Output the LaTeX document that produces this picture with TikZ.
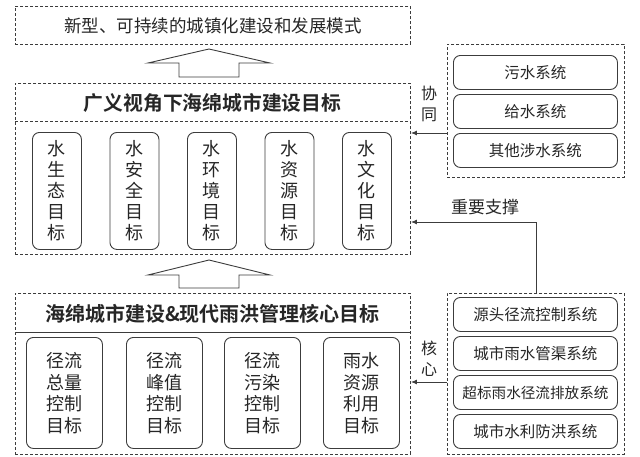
\documentclass[tikz,border=0pt]{standalone}
\usepackage{fontspec}
\setmainfont{Noto Sans CJK SC}[BoldFont={Noto Sans CJK SC Bold}]
\usetikzlibrary{arrows.meta,calc}
\definecolor{lc}{HTML}{3C3C3C}
\definecolor{tc}{HTML}{262626}
\tikzset{
  dbox/.style={draw=lc, line width=0.9pt, dash pattern=on 3pt off 2pt, anchor=north west, inner sep=0pt, text=tc},
  rbox/.style={draw=lc, line width=0.9pt, rounded corners=7pt, anchor=north west, inner sep=0pt, align=center, text=tc},
  vgoal/.style={rbox, minimum width=49pt, minimum height=117pt, font=\fontsize{18}{21}\selectfont},
  cgoal/.style={rbox, minimum width=76pt, minimum height=111pt, font=\fontsize{18}{21.5}\selectfont},
  sys/.style={rbox, minimum width=164pt, minimum height=34pt, font=\fontsize{15.5}{18}\selectfont},
  lab/.style={text=tc, inner sep=0pt, align=center},
  conn/.style={draw=lc, line width=0.9pt, -{Latex[length=6pt,width=5pt]}},
  blockarrow/.style={draw=lc, line width=0.9pt, fill=white}
}
\begin{document}
\begin{tikzpicture}[x=1pt,y=-1pt]
\useasboundingbox (0,0) rectangle (640,456);
% top box
\node[dbox, minimum width=395pt, minimum height=38pt, font=\fontsize{17.5}{20}\selectfont] (top) at (15,6) {新型、可持续的城镇化建设和发展模式};
% arrow 1
\draw[blockarrow] (179,77) -- (179,63) -- (148,63) -- (209,49) -- (270,63) -- (239,63) -- (239,77) -- cycle;
% middle box
\node[dbox, minimum width=395pt, minimum height=171pt] (mid) at (15,83) {};
\coordinate (midsepL) at (15,121);
\coordinate (midsepR) at (410,121);
\draw[lc, line width=0.9pt, dash pattern=on 3pt off 2pt] (midsepL) -- (midsepR);
\node[lab, font=\bfseries\fontsize{19.8}{22}\selectfont] (midtitle) at (212.5,103) {广义视角下海绵城市建设目标};
\node[vgoal] (g1) at (32,132) {水\\生\\态\\目\\标};
\node[vgoal] (g2) at (109.5,132) {水\\安\\全\\目\\标};
\node[vgoal] (g3) at (187,132) {水\\环\\境\\目\\标};
\node[vgoal] (g4) at (264.5,132) {水\\资\\源\\目\\标};
\node[vgoal] (g5) at (342,132) {水\\文\\化\\目\\标};
% arrow 2
\draw[blockarrow] (179,288) -- (179,275) -- (148,275) -- (209,260) -- (270,275) -- (239,275) -- (239,288) -- cycle;
% bottom box
\node[dbox, minimum width=395pt, minimum height=161pt] (bot) at (15,293) {};
\coordinate (botsepL) at (15,332);
\coordinate (botsepR) at (410,332);
\draw[lc, line width=0.9pt] (botsepL) -- (botsepR);
\node[lab, font=\bfseries\fontsize{20}{22}\selectfont] (bottitle) at (212.5,314) {海绵城市建设\&现代雨洪管理核心目标};
\node[cgoal] (c1) at (26,337) {径流\\总量\\控制\\目标};
\node[cgoal] (c2) at (126,337) {径流\\峰值\\控制\\目标};
\node[cgoal] (c3) at (224,337) {径流\\污染\\控制\\目标};
\node[cgoal] (c4) at (323,337) {雨水\\资源\\利用\\目标};
% right top box
\node[dbox, minimum width=177pt, minimum height=133pt] (rtop) at (447,44) {};
\node[sys] (s1) at (453,55) {污水系统};
\node[sys] (s2) at (453,94) {给水系统};
\node[sys] (s3) at (453,133) {其他涉水系统};
% right bottom box
\node[dbox, minimum width=177pt, minimum height=161pt] (rbot) at (447,293) {};
\node[sys] (t1) at (453,297) {源头径流控制系统};
\node[sys] (t2) at (453,336) {城市雨水管渠系统};
\node[sys, font=\fontsize{14.6}{17}\selectfont] (t3) at (453,375) {超标雨水径流排放系统};
\node[sys] (t4) at (453,414) {城市水利防洪系统};
% connectors
\draw[conn] (rtop.west |- 0,133) -- (mid.east |- 0,133);
\node[lab, font=\fontsize{16}{21}\selectfont] (xt) at (429,104) {协\\同};
\draw[conn] (rbot.west |- 0,382) -- (bot.east |- 0,382);
\node[lab, font=\fontsize{16}{21}\selectfont] (hx) at (429,359) {核\\心};
\coordinate (bend) at (536,222);
\draw[conn] (rbot.north -| bend) -- (bend) -- (mid.east |- bend);
\node[lab, font=\fontsize{17}{20}\selectfont] (zy) at (485,207) {重要支撑};
\end{tikzpicture}
\end{document}
